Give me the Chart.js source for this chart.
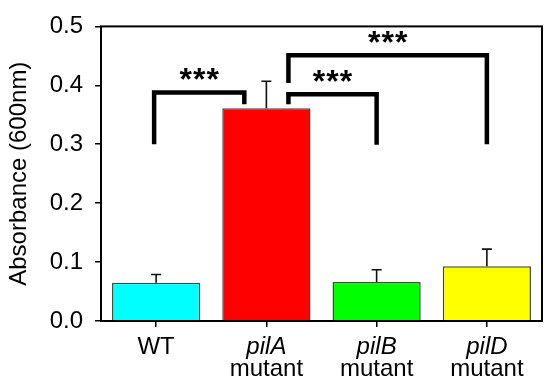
<!DOCTYPE html>
<html>
<head>
<meta charset="utf-8">
<script src="https://cdn.jsdelivr.net/npm/chart.js@4/dist/chart.umd.min.js"></script>
<style>
  body { margin: 0; background: #fff; }
  #wrap { width: 550px; height: 384px; }
</style>
</head>
<body>
<div id="wrap"><canvas id="absChart" width="550" height="384"></canvas></div>
<script>
// data
const strains = ['WT', 'pilA', 'pilB', 'pilD'];
const strainSuffix = ['', 'mutant', 'mutant', 'mutant'];
const absorbance = [0.065, 0.361, 0.066, 0.093];
const errUp = [0.014, 0.046, 0.021, 0.029];
const barColors = ['#00ffff', '#ff0000', '#00ff00', '#ffff00'];
const yTicks = [0, 0.1, 0.2, 0.3, 0.4, 0.5];

// significance brackets: category indexes + levels (absorbance units)
const brFrom = [0, 1, 1];
const brTo = [1, 2, 3];
const brLeftEnd = [0.300, 0.368, 0.404];
const brTop = [0.388, 0.385, 0.451];
const brRightEnd = [0.368, 0.299, 0.300];
const brText = ['***', '***', '***'];

const FONT = "Arial, 'Liberation Sans', sans-serif";

// frame round the plot area
const framePlugin = {
    id: 'frame',
    afterDraw(chart) {
        const { ctx, chartArea: a } = chart;
        ctx.save();
        ctx.strokeStyle = '#000';
        ctx.lineWidth = 2;
        ctx.strokeRect(a.left, a.top, a.right - a.left, a.bottom - a.top);
        ctx.restore();
    }
};

// only the upper half of the error bar is drawn
const errorBarPlugin = {
    id: 'errorBars',
    afterDatasetsDraw(chart) {
        const { ctx } = chart;
        const y = chart.scales.y;
        const meta = chart.getDatasetMeta(0);
        ctx.save();
        ctx.strokeStyle = '#111';
        ctx.lineWidth = 1.6;
        meta.data.forEach((bar, i) => {
            const yTop = y.getPixelForValue(absorbance[i] + errUp[i]);
            ctx.beginPath();
            ctx.moveTo(bar.x, bar.y);
            ctx.lineTo(bar.x, yTop);
            ctx.moveTo(bar.x - 5, yTop);
            ctx.lineTo(bar.x + 5, yTop);
            ctx.stroke();
        });
        ctx.restore();
    }
};

// brackets with *** on top
const bracketPlugin = {
    id: 'brackets',
    afterDatasetsDraw(chart) {
        const { ctx } = chart;
        const x = chart.scales.x, y = chart.scales.y;
        const step = x.getPixelForValue(1) - x.getPixelForValue(0);
        const shift = step * 0.2; // legs on the pilA bar sit off-centre
        ctx.save();
        ctx.strokeStyle = '#000';
        ctx.lineWidth = 4.5;
        ctx.lineCap = 'butt';
        brFrom.forEach((f, i) => {
            let x1 = x.getPixelForValue(f);
            let x2 = x.getPixelForValue(brTo[i]);
            if (f === 1) x1 += shift;
            if (brTo[i] === 1) x2 -= shift;
            if (f === 0) x1 -= 2;
            const yt = y.getPixelForValue(brTop[i]);
            ctx.beginPath();
            ctx.moveTo(x1, y.getPixelForValue(brLeftEnd[i]));
            ctx.lineTo(x1, yt);
            ctx.lineTo(x2, yt);
            ctx.lineTo(x2, y.getPixelForValue(brRightEnd[i]));
            ctx.stroke();

            // the stars are spaced a little wider than the font gives
            ctx.fillStyle = '#000';
            ctx.font = 'bold 32px ' + FONT;
            ctx.textAlign = 'center';
            ctx.textBaseline = 'alphabetic';
            const chars = brText[i].split('');
            const gap = 13.5;
            const cx = (x1 + x2) / 2;
            chars.forEach((c, k) => {
                ctx.fillText(c, cx + (k - (chars.length - 1) / 2) * gap, yt - 2);
            });
        });
        ctx.restore();
    }
};

// x labels: gene name in italics, "mutant" upright underneath
const xLabelPlugin = {
    id: 'xLabels',
    afterDraw(chart) {
        const { ctx } = chart;
        const x = chart.scales.x;
        const base = chart.chartArea.bottom;
        ctx.save();
        ctx.fillStyle = '#000';
        ctx.textAlign = 'center';
        ctx.textBaseline = 'middle';
        strains.forEach((s, i) => {
            const px = x.getPixelForValue(i);
            ctx.font = (strainSuffix[i] ? 'italic ' : '') + '24px ' + FONT;
            ctx.fillText(s, px, base + 26);
            if (strainSuffix[i]) {
                ctx.font = '24px ' + FONT;
                ctx.fillText(strainSuffix[i], px, base + 48);
            }
        });
        ctx.restore();
    }
};

let absChartInstance = new Chart(document.getElementById('absChart'), {
    type: 'bar',
    data: {
        labels: strains,
        datasets: [{
            label: 'Absorbance',
            data: absorbance,
            backgroundColor: barColors,
            borderColor: 'rgba(20, 30, 20, 0.8)',
            borderWidth: 1.5,
            barPercentage: 1.0,
            categoryPercentage: 0.8
        }]
    },
    options: {
        responsive: false,
        animation: false,
        layout: { padding: { top: 18, right: 8, left: 0, bottom: 0 } },
        plugins: {
            legend: { display: false },
            tooltip: { enabled: false }
        },
        scales: {
            x: {
                grid: { display: true, drawOnChartArea: false, drawTicks: true, tickLength: 6, offset: false, color: '#000', lineWidth: 1.5 },
                border: { display: false },
                ticks: { display: false },
                afterFit: scale => { scale.height = 63; }
            },
            y: {
                min: 0,
                max: 0.5,
                afterBuildTicks: scale => { scale.ticks = yTicks.map(v => ({ value: v })); },
                ticks: {
                    color: '#000',
                    padding: 12,
                    font: { family: FONT, size: 24 },
                    callback: v => Number(v).toFixed(1)
                },
                grid: { drawOnChartArea: false, drawTicks: true, tickLength: 6, color: '#000', lineWidth: 1.5 },
                border: { display: false },
                title: {
                    display: true,
                    text: 'Absorbance (600nm)',
                    color: '#000',
                    font: { family: FONT, size: 24 },
                    padding: { top: 5, bottom: 0 }
                },
                afterFit: scale => { scale.width = 101; }
            }
        }
    },
    plugins: [framePlugin, errorBarPlugin, bracketPlugin, xLabelPlugin]
});
</script>
</body>
</html>
